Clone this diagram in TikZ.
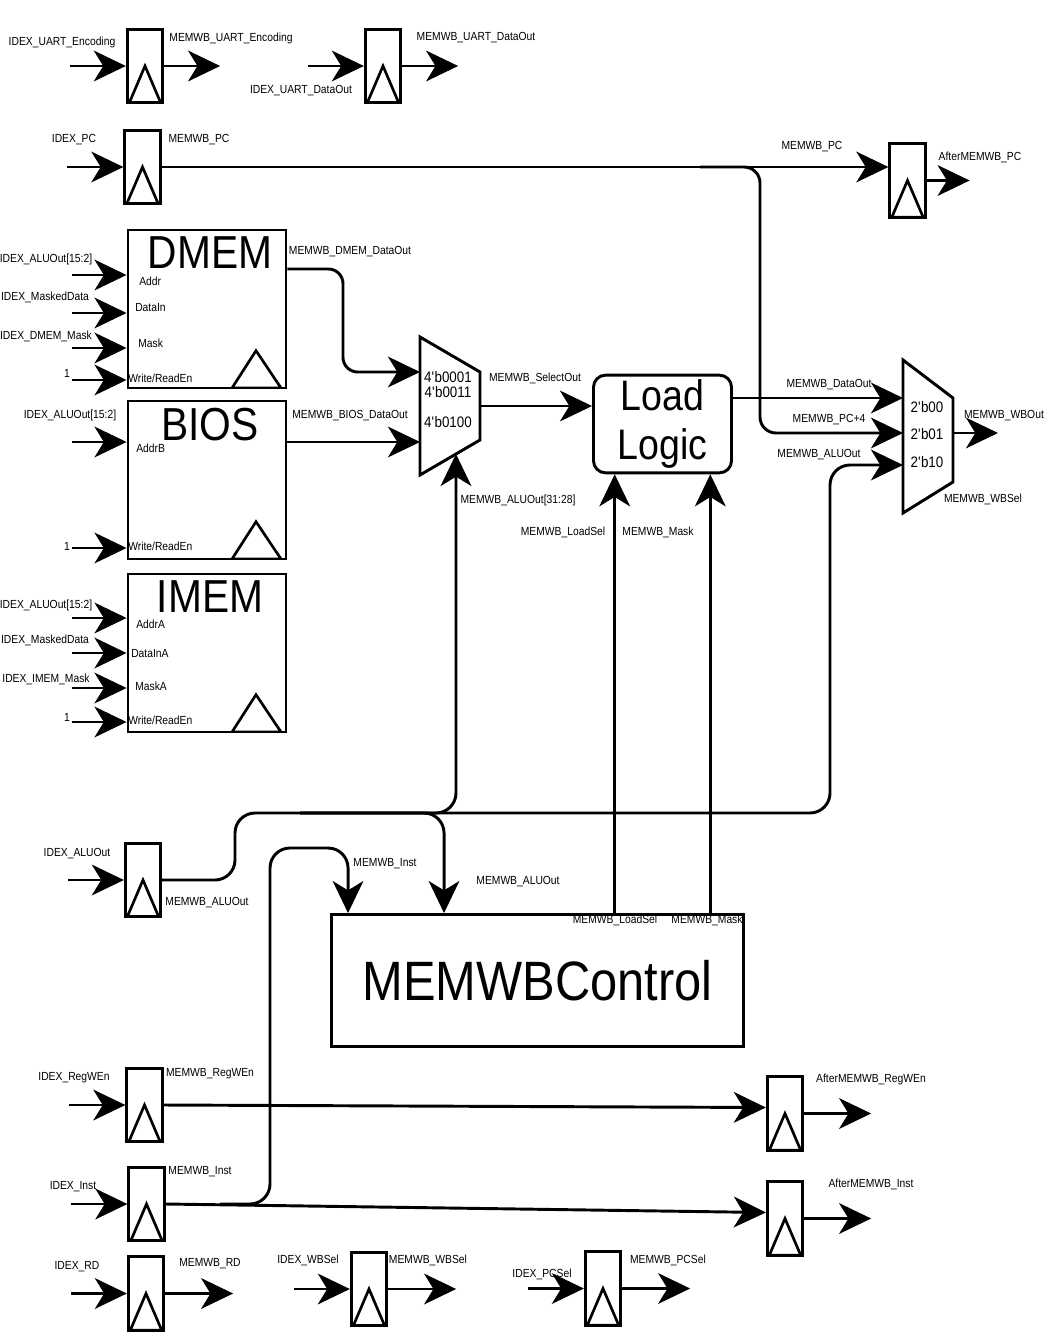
\documentclass[tikz,border=0pt]{standalone}
\usepackage{fontspec}
\setmainfont{Liberation Sans}[FakeStretch=0.88]
\usetikzlibrary{positioning,arrows.meta,calc}

\begin{document}
\begin{tikzpicture}[x=0.75pt,y=-0.75pt,
  lab/.style={font=\fontsize{8.8}{10}\selectfont,inner sep=0pt},
  port/.style={lab,anchor=west},
  sel/.style={font=\fontsize{11.4}{13}\selectfont,inner sep=0pt},
  ttl/.style={font=\fontsize{34.7}{36}\selectfont,inner sep=0pt},
  wire/.style={line width=2.2pt},
  sig/.style={wire,-{Stealth[length=24pt,width=23pt,inset=7pt]}},
  flop/.style={draw,line width=2.2pt,minimum width=26.5pt,minimum height=55pt,inner sep=0pt,
    path picture={\draw[line width=2pt] ([xshift=1.5pt]path picture bounding box.south west)
      -- (path picture bounding box.center) -- ([xshift=-1.5pt]path picture bounding box.south east) -- cycle;}},
  mem/.style={draw,line width=2.2pt,minimum width=118.5pt,minimum height=118.5pt,inner sep=0pt,
    path picture={\draw[line width=2pt] ([xshift=-40.5pt]path picture bounding box.south east)
      -- ([xshift=-22.5pt,yshift=28pt]path picture bounding box.south east) -- ([xshift=-3.75pt]path picture bounding box.south east) -- cycle;}}]
\path[use as bounding box,fill=white] (0,0) rectangle (1047,1334);

\foreach \nm/\cx/\cy in {rEnc/145/66, rUdo/383/66, rPC/142.5/167, rAPC/907.5/180.5, rALU/143/880,
  rWEn/144.5/1105, rInst/146.5/1204, rRD/146/1293.5, rAWEn/785/1113.5, rAInst/785/1218.5,
  rWBS/369/1289, rPCS/603/1288.5}
  \node[flop] (\nm) at (\cx,\cy) {};

\foreach \nm in {rEnc,rUdo,rPC,rALU,rWEn,rInst,rRD,rWBS,rPCS}{
  \coordinate (\nm-in) at ([xshift=-42pt]\nm.west);
  \draw[sig] (\nm-in) -- (\nm.west);}
\foreach \nm/\len in {rEnc/56, rUdo/56, rAPC/43, rRD/68, rWBS/68, rPCS/68, rAWEn/67, rAInst/67}{
  \coordinate (\nm-out) at ([xshift=\len*0.75pt]\nm.east);
  \draw[sig] (\nm.east) -- (\nm-out);}

\node[mem] (dmem) at (207,309) {};
\node[mem] (bios) at (207,480) {};
\node[mem] (imem) at (207,653) {};
\foreach \m/\t in {dmem/DMEM,bios/BIOS,imem/IMEM}
  \node[ttl,below=6pt of \m.north,xshift=2.25pt] (\m-t) {\t};
\foreach \m/\y in {dmem/275,dmem/313,dmem/348,dmem/380,bios/442,bios/548,imem/618,imem/653,imem/688,imem/722}{
  \coordinate (in\y) at (72,\y);
  \draw[sig] (in\y) -- (in\y -| \m.west);}
\foreach \x/\y/\t [count=\i] in {139/281/Addr, 135/308/DataIn, 138/343/Mask, 128/378/{Write/ReadEn},
  136/448/AddrB, 128/546/{Write/ReadEn}, 136/624/AddrA, 131/654/DataInA, 135/686/MaskA, 128/720/{Write/ReadEn}}
  \node[port] (pt\i) at (\x,\y) {\t};

\coordinate (m1nw) at (420,337); \coordinate (m1ne) at (480,372);
\coordinate (m1se) at (480,440); \coordinate (m1sw) at (420,475);
\draw[wire,line join=miter] (m1nw) -- (m1ne) -- (m1se) -- (m1sw) -- cycle;
\coordinate (m1a) at (420,372); \coordinate (m1b) at (420,442);
\coordinate (m1o) at (480,406); \coordinate (m1s) at (456,454);
\node[sel] (s1) at (448,377) {4\textquotesingle b0001};
\node[sel] (s2) at (448,392) {4\textquotesingle b0011};
\node[sel] (s3) at (448,422) {4\textquotesingle b0100};

\coordinate (wbnw) at (903,360); \coordinate (wbne) at (953,398);
\coordinate (wbse) at (953,482); \coordinate (wbsw) at (903,513);
\draw[wire,line join=miter] (wbnw) -- (wbne) -- (wbse) -- (wbsw) -- cycle;
\coordinate (wb1) at (903,398); \coordinate (wb2) at (903,433); \coordinate (wb3) at (903,465);
\coordinate (wbO) at (953,433); \coordinate (wbOut) at (998,433);
\node[sel] (w1) at (927,407) {2\textquotesingle b00};
\node[sel] (w2) at (927,434) {2\textquotesingle b01};
\node[sel] (w3) at (927,462) {2\textquotesingle b10};

\node[draw,line width=2.2pt,rounded corners=9pt,minimum width=103.5pt,minimum height=72.75pt,
  align=center,font=\fontsize{32}{36.75}\selectfont] (ll) at (662.5,424) {Load\\Logic};
\node[draw,line width=2.2pt,minimum width=309pt,minimum height=99pt,
  font=\fontsize{41.6}{44}\selectfont] (ctl) at (537.5,980.5) {MEMWBControl};

\coordinate (dmOut) at ([yshift=30pt]dmem.east);
\coordinate (dmBend) at (343,320);
\coordinate (pcBr) at (700,167);
\coordinate (pcV) at (760,433);
\coordinate (aluUp) at (235,813);
\coordinate (aluR) at (830,813);
\coordinate (aluBus) at (300,813);
\coordinate (ctlA) at ([xshift=85.5pt]ctl.north west);
\coordinate (ctlI) at ([xshift=13.5pt]ctl.north west);
\coordinate (lsA) at ([xshift=17pt]ll.south west);
\coordinate (lsB) at ([xshift=-17pt]ll.south east);
\coordinate (instBr) at (220,1204);
\coordinate (instUp) at (270,848);

\draw[sig,rounded corners=11pt] (dmOut) -| (dmBend) |- (m1a);
\draw[sig] ([yshift=28.5pt]bios.east) -- (m1b);
\draw[sig] (m1o) -- (m1o -| ll.west);
\draw[sig] (wb1 -| ll.east) -- (wb1);
\draw[sig] (wbO) -- (wbOut);
\draw[sig] (rPC.east) -- (rPC.east -| rAPC.west);
\draw[sig,rounded corners=12pt] (pcBr) -| (pcV) -- (wb2);
\draw[sig,rounded corners=15pt] (rALU.east) -| (aluUp) -- (aluR) |- (wb3);
\draw[sig,rounded corners=15pt] (aluBus) -| (m1s);
\draw[sig,rounded corners=15pt] (aluBus) -| (ctlA);
\draw[sig] (lsA |- ctl.north) -- (lsA);
\draw[sig] (lsB |- ctl.north) -- (lsB);
\draw[sig] (rWEn.east) -- ([yshift=4.5pt]rAWEn.west);
\draw[sig] (rInst.east) -- ([yshift=4.5pt]rAInst.west);
\draw[sig,rounded corners=15pt] (instBr) -| (instUp) -| (ctlI);

\foreach \x/\y/\t [count=\i] in {62/42/IDEX\_UART\_Encoding, 231/38/MEMWB\_UART\_Encoding,
  301/91/IDEX\_UART\_DataOut, 476/38/MEMWB\_UART\_DataOut, 74/140/IDEX\_PC, 199/140/MEMWB\_PC,
  812/147/MEMWB\_PC, 980/157/AfterMEMWB\_PC,
  46/259/IDEX\_ALUOut[15:2], 45/297/IDEX\_MaskedData, 46/336/IDEX\_DMEM\_Mask, 67/373/1,
  70/415/IDEX\_ALUOut[15:2], 67/546/1,
  46/605/IDEX\_ALUOut[15:2], 45/640/IDEX\_MaskedData, 46/679/IDEX\_IMEM\_Mask, 67/717/1,
  350/252/MEMWB\_DMEM\_DataOut, 350/416/MEMWB\_BIOS\_DataOut, 535/378/MEMWB\_SelectOut,
  518/500/MEMWB\_ALUOut[31:28], 563/532/MEMWB\_LoadSel, 658/532/MEMWB\_Mask,
  829/385/MEMWB\_DataOut, 829/420/MEMWB\_PC+4, 819/455/MEMWB\_ALUOut,
  1004/416/MEMWB\_WBOut, 983/499/MEMWB\_WBSel,
  77/854/IDEX\_ALUOut, 207/903/MEMWB\_ALUOut, 385/864/MEMWB\_Inst, 518/882/MEMWB\_ALUOut,
  615/920/MEMWB\_LoadSel, 707/920/MEMWB\_Mask,
  74/1078/IDEX\_RegWEn, 210/1074/MEMWB\_RegWEn, 871/1079/AfterMEMWB\_RegWEn,
  73/1187/IDEX\_Inst, 200/1172/MEMWB\_Inst, 871/1184/AfterMEMWB\_Inst,
  77/1267/IDEX\_RD, 210/1264/MEMWB\_RD, 308/1260/IDEX\_WBSel, 428/1260/MEMWB\_WBSel,
  542/1274/IDEX\_PCSel, 668/1260/MEMWB\_PCSel}
  \node[lab] (lb\i) at (\x,\y) {\t};
\end{tikzpicture}
\end{document}
